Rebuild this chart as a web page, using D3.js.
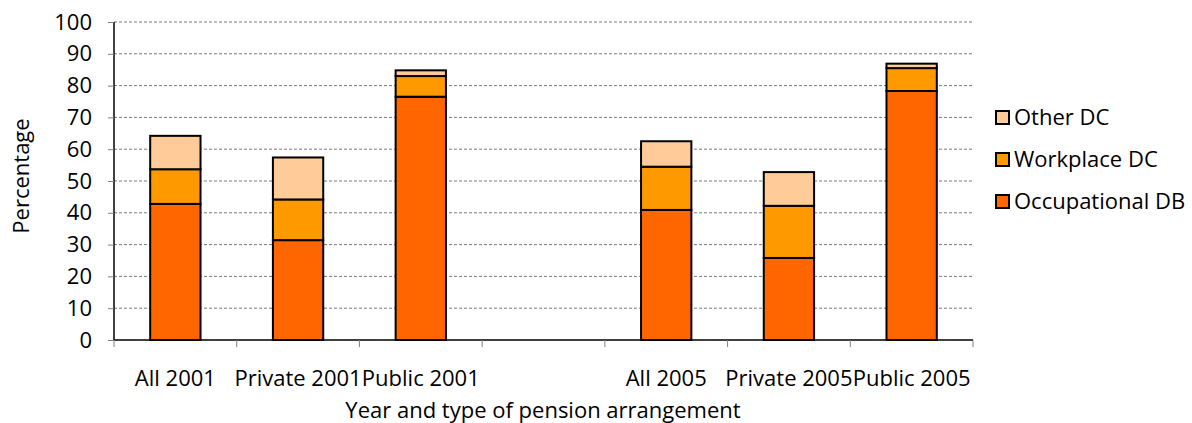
<!DOCTYPE html>
<html lang="en">
<head>
<meta charset="UTF-8">
<title>Pension arrangements</title>
<script src="https://d3js.org/d3.v7.min.js"></script>
<style>
  body { margin: 0; background: #fff; font-family: "Open Sans", sans-serif; }
  svg text { fill: #000; }
</style>
</head>
<body>
<svg id="chart" width="1192" height="423"></svg>
<script>
// Data
const categories = ["All 2001", "Private 2001", "Public 2001", "", "All 2005", "Private 2005", "Public 2005"];
const occupationalDB = [42.8, 31.4, 76.5, null, 40.9, 25.8, 78.3];
const workplaceDC   = [10.9, 12.8, 6.5, null, 13.6, 16.4, 7.2];
const otherDC       = [10.5, 13.2, 1.8, null, 8.0, 10.6, 1.4];
const seriesNames = ["Occupational DB", "Workplace DC", "Other DC"];
const yTicks = [0, 10, 20, 30, 40, 50, 60, 70, 80, 90, 100];

const colors = { "Occupational DB": "#ff6600", "Workplace DC": "#ff9900", "Other DC": "#ffcc99" };
const fontSize = 22;

const svg = d3.select("#chart");
const margin = { top: 22, left: 114, right: 1192 - 973, bottom: 423 - 340 };
const width = 973 - margin.left;
const height = 340 - margin.top;

const g = svg.append("g").attr("transform", `translate(${margin.left},${margin.top})`);

const x = d3.scaleBand().domain(d3.range(categories.length)).range([0, width]).padding(0);
const y = d3.scaleLinear().domain([0, 100]).range([height, 0]);

// gridlines
g.selectAll(".grid")
  .data(yTicks.filter(d => d > 0))
  .enter().append("line")
  .attr("x1", 0).attr("x2", width)
  .attr("y1", d => y(d)).attr("y2", d => y(d))
  .attr("stroke", "#7a7a7a")
  .attr("stroke-width", 1)
  .attr("stroke-dasharray", "3,2");

// stacked data
const rows = categories.map((c, i) => ({
  i,
  "Occupational DB": occupationalDB[i],
  "Workplace DC": workplaceDC[i],
  "Other DC": otherDC[i]
})).filter(r => r["Occupational DB"] != null);

const stack = d3.stack().keys(seriesNames)(rows);
const barW = x.bandwidth() * 0.41;

stack.forEach(layer => {
  g.selectAll(null)
    .data(layer)
    .enter().append("rect")
    .attr("x", d => x(d.data.i) + (x.bandwidth() - barW) / 2)
    .attr("y", d => y(d[1]))
    .attr("width", barW)
    .attr("height", d => y(d[0]) - y(d[1]))
    .attr("fill", colors[layer.key])
    .attr("stroke", "#000")
    .attr("stroke-width", 2);
});

// y axis
const yAxis = g.append("g")
  .call(d3.axisLeft(y).tickValues(yTicks).tickSize(6).tickPadding(16));
yAxis.select(".domain").attr("stroke", "#000").attr("stroke-width", 1.5).attr("d", `M0,${height}V0`);
yAxis.selectAll(".tick line").attr("stroke", "#808080");
yAxis.selectAll("text").attr("font-size", fontSize).attr("font-family", "Open Sans, sans-serif");

// x axis with ticks at band boundaries
const xAxisG = g.append("g").attr("transform", `translate(0,${height})`);
xAxisG.append("line").attr("x1", 0).attr("x2", width).attr("stroke", "#000").attr("stroke-width", 1.5);
xAxisG.selectAll(".xt")
  .data(d3.range(categories.length + 1))
  .enter().append("line")
  .attr("x1", d => d * x.step()).attr("x2", d => d * x.step())
  .attr("y1", 0).attr("y2", 7)
  .attr("stroke", "#808080");
xAxisG.selectAll(".xl")
  .data(categories)
  .enter().append("text")
  .attr("x", (d, i) => x(i) + x.bandwidth() / 2)
  .attr("y", 46)
  .attr("text-anchor", "middle")
  .attr("font-size", fontSize)
  .text(d => d);

// axis titles
svg.append("text")
  .attr("x", 543).attr("y", 418)
  .attr("text-anchor", "middle")
  .attr("font-size", fontSize)
  .text("Year and type of pension arrangement");

svg.append("text")
  .attr("transform", "translate(29,176) rotate(-90)")
  .attr("text-anchor", "middle")
  .attr("font-size", fontSize)
  .text("Percentage");

// legend
const legendItems = ["Other DC", "Workplace DC", "Occupational DB"];
const legend = svg.append("g").attr("transform", "translate(996,117)");
legendItems.forEach((name, i) => {
  const row = legend.append("g").attr("transform", `translate(0,${i * 42})`);
  row.append("rect")
    .attr("x", 0).attr("y", -6).attr("width", 13).attr("height", 13)
    .attr("fill", colors[name]).attr("stroke", "#000").attr("stroke-width", 2);
  row.append("text")
    .attr("x", 18).attr("y", 8)
    .attr("font-size", fontSize)
    .text(name);
});
</script>
</body>
</html>
